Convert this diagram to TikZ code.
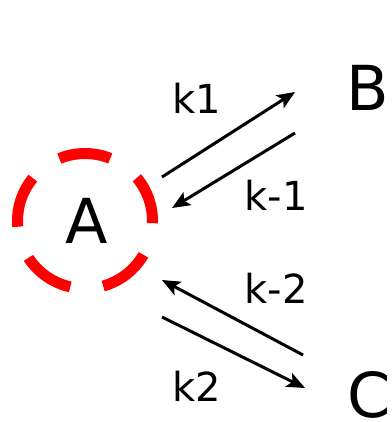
\documentclass[tikz,border=0pt]{standalone}
\usepackage{fontspec}
\setmainfont{DejaVu Sans}
\usetikzlibrary{arrows.meta}
\tikzset{
  species/.style={inner sep=0pt, font=\fontsize{62}{70}\selectfont},
  rate/.style={inner sep=0pt, font=\fontsize{40}{46}\selectfont},
  reac/.style={line width=3pt, -{Stealth[length=18pt,width=15pt,inset=4pt]}},
  ring/.style={draw=red, line width=11pt, dash pattern=on 52.2pt off 33.25pt, dash phase=5.3pt}
}
\begin{document}
\begin{tikzpicture}[x=1pt,y=-1pt]
\useasboundingbox (0,0) rectangle (391,422);
\node[species] (A) at (87,221) {A};
\node[species] (B) at (368,88) {B};
\node[species] (C) at (369,395) {C};
\draw[ring] (85,221) circle [radius=67.5pt];
\node[rate] (k1) at (197,98) {k1};
\node[rate] (km1) at (276,195) {k-1};
\node[rate] (km2) at (276,288) {k-2};
\node[rate] (k2) at (197,386) {k2};
\coordinate (a1) at (162,177);
\coordinate (b1) at (295,92);
\coordinate (b2) at (295,133);
\coordinate (a2) at (172,208);
\coordinate (c3) at (303,355);
\coordinate (a3) at (162,280);
\coordinate (a4) at (162,317);
\coordinate (c4) at (305,388);
\draw[reac] (a1) -- (b1);
\draw[reac] (b2) -- (a2);
\draw[reac] (c3) -- (a3);
\draw[reac] (a4) -- (c4);
\end{tikzpicture}
\end{document}
